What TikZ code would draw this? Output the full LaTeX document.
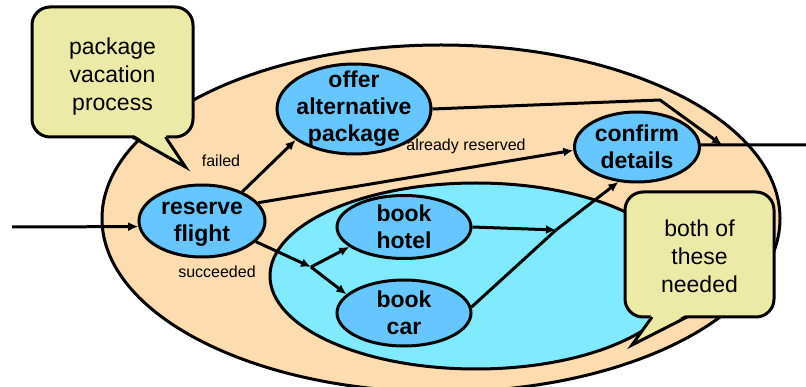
\documentclass[tikz,border=0pt]{standalone}
\usepackage{fontspec}
\setmainfont{Liberation Sans}
\usetikzlibrary{shapes.geometric,arrows.meta,calc}
\definecolor{peach}{RGB}{253,220,175}
\definecolor{pool}{RGB}{128,234,255}
\definecolor{taskblue}{RGB}{102,198,255}
\definecolor{notefill}{RGB}{235,234,166}
\begin{document}
\begin{tikzpicture}[x=1pt,y=-1pt,
  region/.style={ellipse,draw,line width=3pt,inner sep=0pt},
  task/.style={ellipse,draw,fill=taskblue,line width=3pt,inner sep=0pt},
  tasktext/.style={align=center,font=\fontsize{23}{27}\selectfont\bfseries,inner sep=0pt},
  note/.style={rectangle,rounded corners=18pt,draw,fill=notefill,line width=3pt,outer sep=0pt},
  notetext/.style={align=center,font=\fontsize{23}{28}\selectfont,inner sep=0pt},
  flow/.style={line width=3pt,-{Latex[length=10pt,width=9pt]}},
  link/.style={line width=3pt},
  tag/.style={font=\fontsize{16}{19}\selectfont,inner sep=0pt}]
\useasboundingbox (0,0) rectangle (806,387);
\clip (0,0) rectangle (806,387);

% process regions
\node[region,fill=peach,minimum width=678pt,minimum height=347pt] (process) at (441,218.5) {};
\node[region,fill=pool,minimum width=412pt,minimum height=186pt] (parallel) at (476,276) {};

% activities
\node[task,minimum width=126pt,minimum height=72pt,
  label={[tasktext,yshift=-3.5pt]center:reserve\\flight}] (reserve) at (202,221) {};
\node[task,minimum width=154pt,minimum height=90pt,
  label={[tasktext]center:offer\\alternative\\package}] (offer) at (354,109) {};
\node[task,minimum width=125pt,minimum height=70pt,
  label={[tasktext]center:confirm\\details}] (confirm) at (637,147) {};
\node[task,minimum width=134pt,minimum height=63pt,
  label={[tasktext]center:book\\hotel}] (hotel) at (404,227) {};
\node[task,minimum width=134pt,minimum height=66pt,
  label={[tasktext]center:book\\car}] (car) at (404,313) {};

% free ends and junctions
\coordinate (entry) at (12,227);
\coordinate (exit) at (806,145);
\coordinate (bend) at (660,100);
\coordinate (merge) at (722,145);
\coordinate (split) at (311,267);
\coordinate (join) at (556,230);

% flows
\draw[flow] (entry) -- (reserve.185);
\draw[flow] (reserve.36) -- (offer.208);
\draw[flow] (reserve.18) -- (confirm.183);
\draw[link] (confirm.2) -- (exit);
\draw[flow] (offer.east) -- (bend) -- (merge);
\draw[flow] (reserve.-21) -- (split);
\draw[flow] (split) -- (hotel.200);
\draw[flow] (split) -- (car.162);
\draw[flow] (hotel.east) -- (join);
\draw[link] (car.5) -- (join);
\draw[flow] (join) -- (confirm.242);

% flow labels
\node[tag] (failedtag) at (221,161) {failed};
\node[tag] (succtag) at (217,272) {succeeded};
\node[tag] (alreadytag) at (466,146) {already reserved};

% callouts
\node[note,minimum width=161pt,minimum height=130pt,
  label={[notetext,yshift=-5pt]center:package\\vacation\\process}] (pvp) at (112.5,72) {};
\fill[notefill] ($(pvp.south)+(20,-3)$) -- ($(pvp.south)+(73,30)$) -- ($(pvp.south)+(53,-3)$) -- cycle;
\draw[line width=3pt,line join=miter] ($(pvp.south)+(20,0)$) -- ($(pvp.south)+(73,30)$) -- ($(pvp.south)+(53,0)$);

\node[note,minimum width=149pt,minimum height=125pt,
  label={[notetext,yshift=-1.5pt]center:both of\\these\\needed}] (both) at (699.5,254.5) {};
\fill[notefill] ($(both.south)+(-47.5,-3)$) -- ($(both.south)+(-67.5,28)$) -- ($(both.south)+(-12.5,-3)$) -- cycle;
\draw[line width=3pt,line join=miter] ($(both.south)+(-47.5,0)$) -- ($(both.south)+(-67.5,28)$) -- ($(both.south)+(-12.5,0)$);
\end{tikzpicture}
\end{document}
